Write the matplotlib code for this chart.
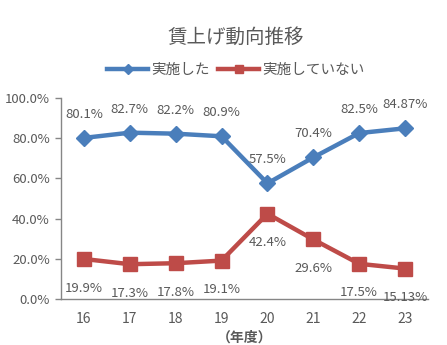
import matplotlib
matplotlib.use("Agg")
import matplotlib.pyplot as plt
from matplotlib.ticker import FuncFormatter

plt.rcParams['font.family'] = ['Noto Sans CJK JP', 'DejaVu Sans']

# data
years = ['16', '17', '18', '19', '20', '21', '22', '23']
implemented = [80.1, 82.7, 82.2, 80.9, 57.5, 70.4, 82.5, 84.87]
not_implemented = [19.9, 17.3, 17.8, 19.1, 42.4, 29.6, 17.5, 15.13]
impl_labels = ['80.1%', '82.7%', '82.2%', '80.9%', '57.5%', '70.4%', '82.5%', '84.87%']
not_labels = ['19.9%', '17.3%', '17.8%', '19.1%', '42.4%', '29.6%', '17.5%', '15.13%']

blue = '#4A7EBB'
red = '#BE4B48'
grey = '#595959'

fig = plt.figure(figsize=(4.47, 3.45), dpi=100)
ax = fig.add_axes([0.1365, 0.1333, 0.821, 0.583])

x = list(range(len(years)))
ax.plot(x, implemented, color=blue, lw=3.2, marker='D', ms=8.5, label='実施した')
ax.plot(x, not_implemented, color=red, lw=3.2, marker='s', ms=9.5, label='実施していない')

for i in x:
    ax.annotate(impl_labels[i], (i, implemented[i]), xytext=(0, 17), textcoords='offset points',
                ha='center', va='center', fontsize=9.5, color=grey)
    ax.annotate(not_labels[i], (i, not_implemented[i]), xytext=(0, -21), textcoords='offset points',
                ha='center', va='center', fontsize=9.5, color=grey)

ax.set_xlim(-0.5, 7.5)
ax.set_ylim(0, 100)
ax.set_yticks([0, 20, 40, 60, 80, 100])
ax.yaxis.set_major_formatter(FuncFormatter(lambda v, p: f'{v:.1f}%'))
ax.set_xticks(x)
ax.set_xticklabels(years)
ax.tick_params(axis='x', length=0, pad=9, labelsize=10, labelcolor=grey)
ax.tick_params(axis='y', length=4, width=1, color='#868686', pad=4, labelsize=9.5, labelcolor=grey)
for s in ['top', 'right']:
    ax.spines[s].set_visible(False)
for s in ['left', 'bottom']:
    ax.spines[s].set_color('#868686')
    ax.spines[s].set_linewidth(1)

fig.text(0.528, 0.893, '賃上げ動向推移', ha='center', va='center', fontsize=14, color=grey)
fig.text(0.548, 0.02, '（年度）', ha='center', va='center', fontsize=10, color=grey, fontweight='bold')

fig.legend(loc='center', bbox_to_anchor=(0.528, 0.797), ncol=2, frameon=False, markerscale=0.65,
           fontsize=10.5, labelcolor=grey, handlelength=2.8, handletextpad=0.2, columnspacing=0.6)

fig.savefig('out.png', dpi=100)
